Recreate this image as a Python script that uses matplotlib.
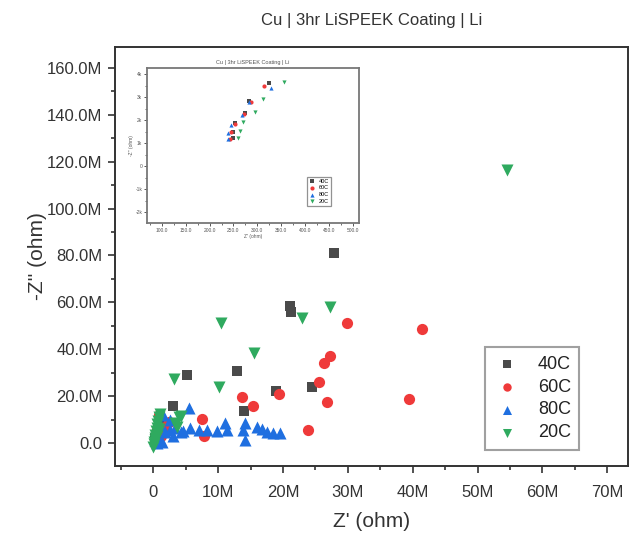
import matplotlib
matplotlib.use("Agg")
import matplotlib.pyplot as plt
from matplotlib.ticker import FuncFormatter, MultipleLocator

plt.rcParams['font.family'] = ['Liberation Sans', 'DejaVu Sans']

# ---- main data (values in M ohm) ----
x40 = [27.8, 21.1, 21.3, 12.9, 5.24, 18.95, 24.5, 14.0, 2.97, 0.3, 0.5, 0.8, 1.2, 0.2]
y40 = [81.2, 58.3, 55.7, 30.8, 28.9, 22.3, 24.1, 13.6, 15.8, 2.0, 4.0, 6.5, 8.0, 1.0]

x60 = [41.4, 29.8, 27.2, 26.3, 25.5, 26.8, 39.4, 19.4, 13.7, 15.4, 23.9, 7.55, 7.75,
       0.82, 1.85, 2.36, 0.5, 1.2, 0.3]
y60 = [48.7, 51.2, 37.1, 34.0, 26.0, 17.6, 18.6, 20.8, 19.6, 15.8, 5.4, 10.1, 3.0,
       11.9, 7.0, 9.1, 5.0, 3.0, 1.5]

x80 = [5.55, 5.70, 6.98, 8.27, 9.81, 11.1, 11.4, 14.2, 14.2, 13.9, 16.0, 16.7, 17.5,
       18.5, 19.6, 1.08, 1.85, 2.6, 0.3, 3.4, 4.2, 2.6, 1.5, 0.8, 3.0, 4.6, 0.5, 1.3]
y80 = [15.1, 6.3, 5.5, 5.5, 5.2, 8.7, 5.5, 8.7, 1.3, 5.5, 7.0, 6.0, 4.8,
       4.1, 4.1, 7.7, 4.7, 5.5, 1.3, 6.4, 4.7, 9.8, 11.9, 2.1, 3.0, 5.0, 0.0, 0.5]

x20 = [54.5, 27.3, 22.9, 10.5, 15.6, 3.13, 10.2, 4.31, 3.65, 3.9, 3.4,
       0.0, 0.1, 0.2, 0.3, 0.4, 0.5, 0.6, 0.7, 0.9, 1.1, 0.1, 0.3, 0.5, 0.7, 0.9]
y20 = [116.4, 58.0, 53.2, 51.3, 38.3, 27.2, 24.1, 11.5, 7.0, 11.2, 8.5,
       -1.5, 0.5, 2.0, 3.5, 5.0, 6.5, 8.0, 9.5, 11.0, 12.5, -0.5, 1.5, 3.0, 4.5, 6.0]

# ---- inset data (ohm) ----
ix40 = [325, 282.6, 274.9, 253.4, 248.5, 248.5]
iy40 = [3610, 2850, 2300, 1870, 1500, 1220]
ix60 = [314, 286.2, 272.2, 253.4, 244.3, 242.9]
iy60 = [3500, 2780, 2260, 1830, 1480, 1190]
ix80 = [328.7, 282, 268.6, 245.6, 238, 238]
iy80 = [3400, 2770, 2220, 1770, 1450, 1190]
ix20 = [355.9, 312.6, 295.8, 270.1, 263.2, 259.6]
iy20 = [3680, 2930, 2360, 1910, 1530, 1240]

labels = ['40C', '60C', '80C', '20C']
colors = ['#4a4a4a', '#ef3a3a', '#1f6fe0', '#2faa5f']
markers = ['s', 'o', '^', 'v']

fig = plt.figure(figsize=(6.31, 5.38), dpi=100)
ax = fig.add_axes([0.1823, 0.1338, 0.8129, 0.7788])

series = [(x40, y40), (x60, y60), (x80, y80), (x20, y20)]
sizes = [55, 65, 75, 75]
for (xs, ys), lab, c, m, s in zip(series, labels, colors, markers, sizes):
    ax.scatter(xs, ys, s=s, c=c, marker=m, label=lab, linewidths=0)

ax.set_xlim(-5.9, 73.2)
ax.set_ylim(-9.8, 168.9)
ax.xaxis.set_major_locator(MultipleLocator(10))
ax.xaxis.set_minor_locator(MultipleLocator(5))
ax.yaxis.set_major_locator(MultipleLocator(20))
ax.yaxis.set_minor_locator(MultipleLocator(10))
ax.xaxis.set_major_formatter(FuncFormatter(lambda v, p: '0' if abs(v) < 1e-9 else f'{v:.0f}M'))
ax.yaxis.set_major_formatter(FuncFormatter(lambda v, p: '0.0' if abs(v) < 1e-9 else f'{v:.1f}M'))
ax.tick_params(axis='both', which='major', direction='out', length=5, width=1.2,
               labelsize=12, labelcolor='#333333', color='#333333', pad=4)
ax.tick_params(axis='x', which='major', pad=9)
ax.tick_params(axis='both', which='minor', direction='out', length=3, width=1.2, color='#333333')
for sp in ax.spines.values():
    sp.set_linewidth(1.4)
    sp.set_color('#333333')

ax.set_xlabel("Z' (ohm)", fontsize=15, color='#333333', labelpad=8)
ax.set_ylabel("-Z'' (ohm)", fontsize=15, color='#333333', labelpad=0)
ax.set_title("Cu | 3hr LiSPEEK Coating | Li", fontsize=12, color='#333333', pad=16)

leg = ax.legend(loc='upper left', bbox_to_anchor=(0.721, 0.283), borderaxespad=0,
                fontsize=13, frameon=True, fancybox=False, handletextpad=0.9,
                labelspacing=0.33, borderpad=0.45, handlelength=1.6, markerscale=0.75)
leg.get_frame().set_edgecolor('#888888')
leg.get_frame().set_linewidth(1.5)
for t in leg.get_texts():
    t.set_color('#222222')

# ---- inset ----
ins = fig.add_axes([0.233, 0.5855, 0.336, 0.288])
for (xs, ys), lab, c, m in zip([(ix40, iy40), (ix60, iy60), (ix80, iy80), (ix20, iy20)],
                              labels, colors, markers):
    ins.scatter(xs, ys, s=9, c=c, marker=m, label=lab, linewidths=0)
ins.set_xlim(69, 513)
ins.set_ylim(-2480, 4270)
ins.xaxis.set_major_locator(MultipleLocator(50))
ins.xaxis.set_minor_locator(MultipleLocator(25))
ins.yaxis.set_major_locator(MultipleLocator(1000))
ins.yaxis.set_minor_locator(MultipleLocator(500))
ins.xaxis.set_major_formatter(FuncFormatter(lambda v, p: f'{v:.1f}'))
ins.yaxis.set_major_formatter(FuncFormatter(lambda v, p: '0' if abs(v) < 1e-9 else f'{v/1000:.0f}k'))
ins.tick_params(axis='both', which='major', direction='out', length=2, width=0.7,
                labelsize=3.5, labelcolor='#555555', color='#555555', pad=1.5)
ins.tick_params(axis='both', which='minor', direction='out', length=1.2, width=0.6, color='#555555')
for sp in ins.spines.values():
    sp.set_linewidth(1.3)
    sp.set_color('#777777')
ins.set_title("Cu | 3hr LiSPEEK Coating | Li", fontsize=4, color='#555555', pad=3)
ins.set_xlabel("Z' (ohm)", fontsize=3.5, color='#555555', labelpad=1)
ins.set_ylabel("-Z'' (ohm)", fontsize=3.5, color='#555555', labelpad=1)
il = ins.legend(loc='upper left', bbox_to_anchor=(0.753, 0.30), borderaxespad=0,
                fontsize=4, frameon=True, fancybox=False, handletextpad=0.6,
                labelspacing=0.3, borderpad=0.4, handlelength=1.2, markerscale=1.0)
il.get_frame().set_edgecolor('#777777')
il.get_frame().set_linewidth(0.9)

fig.savefig('out.png', dpi=100)
